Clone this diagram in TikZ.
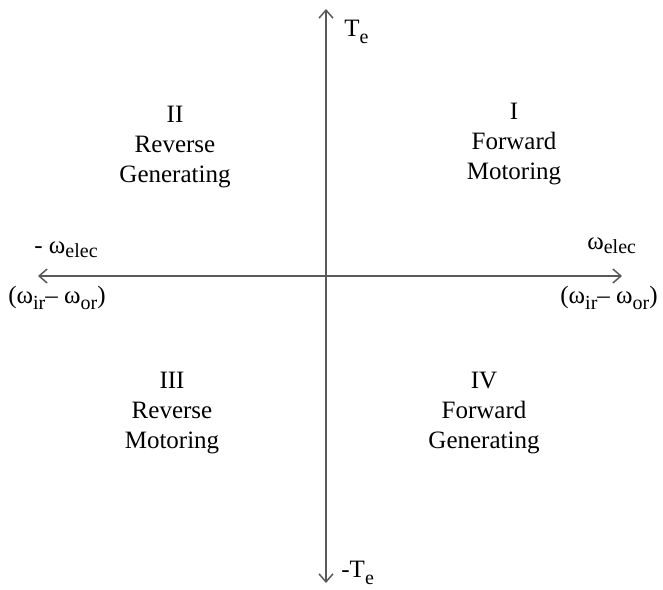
\documentclass[tikz,border=0pt]{standalone}
\usepackage{fontspec}
\setmainfont{Liberation Serif}
\usetikzlibrary{arrows.meta}
\newcommand{\lowsub}[2][3.5pt]{\raisebox{-#1}{\fontsize{10}{10}\selectfont #2}}
\tikzset{
  axis/.style  ={draw=black!65, line width=0.75pt, -{Straight Barb[length=4pt,width=7pt]}},
  quad/.style  ={align=center, font=\fontsize{12.5}{15}\selectfont, inner sep=0pt},
  albl/.style  ={font=\fontsize{12.5}{15}\selectfont, inner sep=0pt, anchor=base west},
}
\begin{document}
\begin{tikzpicture}[x=0.5pt, y=-0.5pt]
\useasboundingbox (0,0) rectangle (663,589);

%% axes
\coordinate (O)  at (326,276);
\coordinate (Tp) at (326,9);
\coordinate (Tn) at (326,583);
\coordinate (Wp) at (622,276);
\coordinate (Wn) at (38,276);
\draw[axis] (O) -- (Tp);
\draw[axis] (O) -- (Tn);
\draw[axis] (O) -- (Wp);
\draw[axis] (O) -- (Wn);

%% axis labels
\node[albl] (te)  at (344,36)  {T\lowsub{e}};
\node[albl] (nte) at (341,577) {-T\lowsub{e}};
\node[albl] (we)  at (587,249) {ω\lowsub[2pt]{elec}};
\node[albl] (nwe) at (34,253)  {- ω\lowsub[2pt]{elec}};
\node[albl] (dwr) at (560,303) {(ω\lowsub[3pt]{ir}– ω\lowsub[3pt]{or})};
\node[albl] (dwl) at (8,303)   {(ω\lowsub[3pt]{ir}– ω\lowsub[3pt]{or})};

%% quadrants
\node[quad] (q1) at (514,144) {I\\Forward\\Motoring};
\node[quad] (q2) at (175,147) {II\\Reverse\\Generating};
\node[quad] (q3) at (172,413) {III\\Reverse\\Motoring};
\node[quad] (q4) at (484,413) {IV\\Forward\\Generating};

\end{tikzpicture}
\end{document}
